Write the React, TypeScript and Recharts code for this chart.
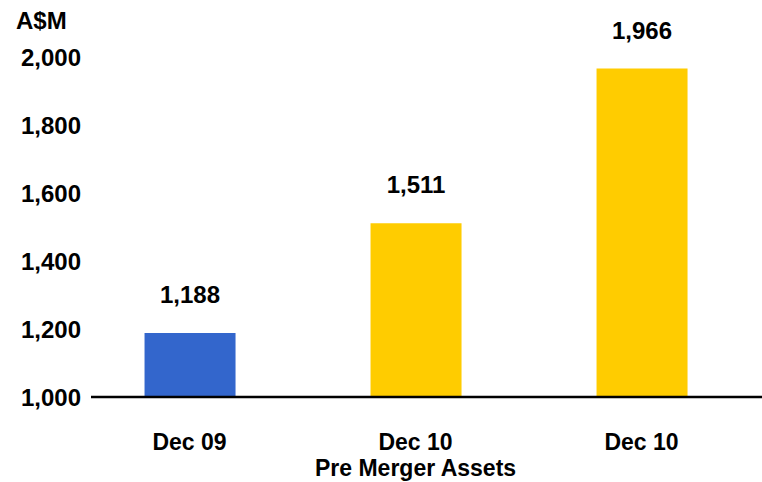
import React from 'react';
import { BarChart, Bar, XAxis, YAxis, Cell, LabelList, Customized } from 'recharts';

const periods = ['Dec 09', 'Dec 10', 'Dec 10'];
const subLabels = ['', 'Pre Merger Assets', ''];
const assets = [1188, 1511, 1966];
const yTicks = [1000, 1200, 1400, 1600, 1800, 2000];

const BLUE = '#3366CC';
const GOLD = '#FFCC00';
const barColors = [BLUE, GOLD, GOLD];

const FONT = '"Liberation Sans", Arial, sans-serif';
const FS = 24;

const data = periods.map((p, i) => ({ idx: i, period: p, value: assets[i] }));

const fmt = (v: number) => v.toLocaleString('en-US');

function PeriodTick(props: any) {
  const { x, y, payload } = props;
  const i = payload.value as number;
  return (
    <g>
      <text x={x} y={y} dy={51} textAnchor="middle" fontFamily={FONT} fontWeight="bold" fontSize={FS - 1} fill="#000">
        {periods[i]}
      </text>
      {subLabels[i] && (
        <text x={x} y={y} dy={77} textAnchor="middle" fontFamily={FONT} fontWeight="bold" fontSize={FS - 1} fill="#000">
          {subLabels[i]}
        </text>
      )}
    </g>
  );
}

export default function App() {
  return (
    <div style={{ position: 'absolute', left: 0, top: 0, width: 762, height: 482, background: '#fff' }}>
      <BarChart width={762} height={482} data={data} margin={{ top: 57, right: 0, bottom: 0, left: 0 }}>
        <XAxis
          type="number"
          dataKey="idx"
          domain={[-0.436, 2.533]}
          ticks={[0, 1, 2]}
          allowDataOverflow
          height={85}
          tickLine={false}
          tickSize={0}
          axisLine={{ stroke: '#000', strokeWidth: 2.5 }}
          tick={<PeriodTick />}
          interval={0}
        />
        <YAxis
          domain={[1000, 2000]}
          ticks={yTicks}
          allowDataOverflow
          width={91}
          axisLine={false}
          tickLine={false}
          tickSize={0}
          tickMargin={10}
          tickFormatter={fmt}
          tick={{ fontFamily: FONT, fontWeight: 'bold', fontSize: FS, fill: '#000' }}
        />
        <Bar dataKey="value" barSize={91} isAnimationActive={false}>
          {data.map((d, i) => (
            <Cell key={i} fill={barColors[i]} />
          ))}
          <LabelList
            dataKey="value"
            position="top"
            offset={30}
            formatter={(v: any) => fmt(Number(v))}
            style={{ fontFamily: FONT, fontWeight: 'bold', fontSize: FS, fill: '#000' }}
          />
        </Bar>
        <Customized
          component={() => (
            <text x={16} y={29} fontFamily={FONT} fontWeight="bold" fontSize={FS} fill="#000">
              A$M
            </text>
          )}
        />
      </BarChart>
    </div>
  );
}
